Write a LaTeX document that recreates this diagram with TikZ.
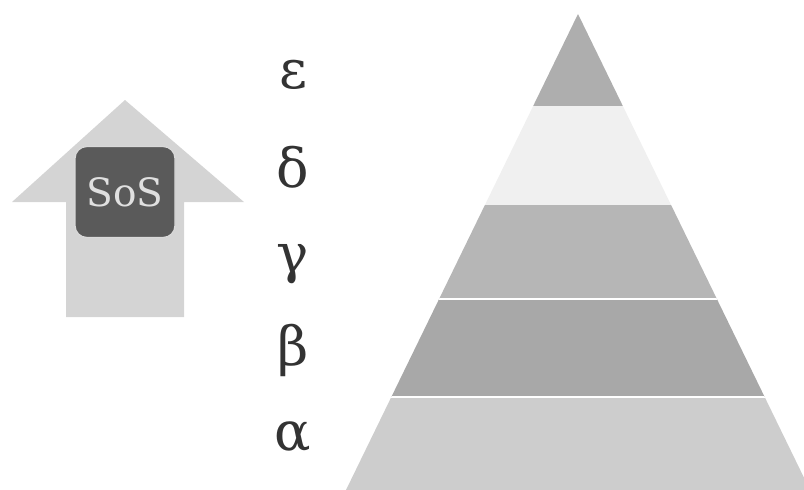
\documentclass[tikz,border=0pt]{standalone}
\usepackage{fontspec}
\setmainfont{DejaVu Serif}
\usepackage{tikz}
\usetikzlibrary{positioning}
\definecolor{arrowgray}{HTML}{D4D4D4}
\definecolor{sosdark}{HTML}{5A5A5A}
\definecolor{epsgray}{HTML}{AEAEAE}
\definecolor{delgray}{HTML}{F0F0F0}
\definecolor{gamgray}{HTML}{B6B6B6}
\definecolor{betgray}{HTML}{A8A8A8}
\definecolor{alpgray}{HTML}{CDCDCD}
\tikzset{
  sosbox/.style={
    rectangle, rounded corners=12pt, draw=white!85!black, fill=sosdark,
    line width=1.2pt, minimum width=100pt, minimum height=91pt,
    text=white!88!black, font=\fontsize{39}{39}\selectfont
  },
  greeklbl/.style={
    anchor=base, inner sep=0pt, text=black!80,
    font=\fontsize{54}{54}\selectfont
  },
  band/.style={fill=#1},
  gapline/.style={white, line width=2pt}
}

\begin{document}
\begin{tikzpicture}[x=1pt, y=-1pt]
  \useasboundingbox (0,0) rectangle (804,490);
  % arrow with the SoS box
  \fill[arrowgray] (125,100) -- (244,202) -- (184,202) -- (184,317)
    -- (66,317) -- (66,202) -- (12,202) -- cycle;
  \node[sosbox] (sos) at (125,192) {SoS};
  % pyramid
  \coordinate (apex) at (578,14);
  \coordinate (bl) at (346,490);
  \coordinate (br) at (810,490);
  \begin{scope}
    \clip (apex) -- (br) -- (bl) -- cycle;
    \fill[band=epsgray] (330,0) rectangle (820,106);
    \fill[band=delgray] (330,106) rectangle (820,205);
    \fill[band=gamgray] (330,205) rectangle (820,299);
    \fill[band=betgray] (330,299) rectangle (820,397);
    \fill[band=alpgray] (330,397) rectangle (820,500);
    \draw[gapline] (330,299) -- (820,299);
    \draw[gapline] (330,397) -- (820,397);
  \end{scope}
  % labels
  \node[greeklbl] (eps) at (293,88) {ε};
  \node[greeklbl] (del) at (293,187) {δ};
  \node[greeklbl] (gam) at (293,272) {γ};
  \node[greeklbl] (bet) at (293,365) {β};
  \node[greeklbl] (alp) at (293,450) {α};
\end{tikzpicture}
\end{document}
